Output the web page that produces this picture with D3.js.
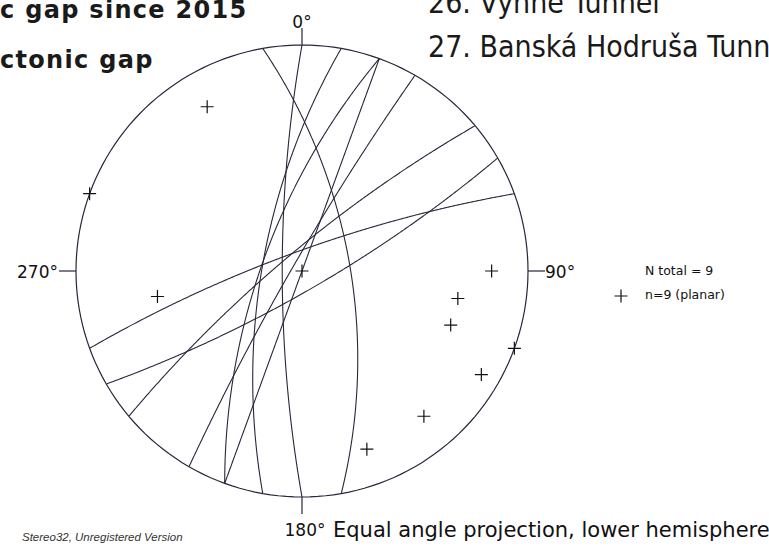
<!DOCTYPE html>
<html>
<head>
  <meta charset='utf-8'>
  <title>Stereonet</title>
  <script src="https://cdn.jsdelivr.net/npm/d3@7"></script>
  <style>
    body { margin: 0; background: #fff; }
    svg { display: block; }
  </style>
</head>
<body>
  <svg width="769" height="547" id="chart"></svg>
  <script>

    // planes measured, given as dip direction / dip
    const dipDirections = [80, 270, 280, 290, 110, 300, 320, 150, 340];
    const dips = [66, 80, 70, 70, 90, 85, 80, 80, 80];

    const tickAngles = [0, 90, 180, 270];
    const tickLabels = ["0°", "90°", "180°", "270°"];

    const legendLines = ["N total = 9", "n=9 (planar)"];

    const R = 226, cx = 302, cy = 271;
    const ink = "#29263a";
    const rad = Math.PI / 180;
    const sans = 'DejaVu Sans, sans-serif';
    const narrow = 'DejaVu Sans Condensed, DejaVu Sans, sans-serif';

    const svg = d3.select('#chart');

    const projection = d3.geoStereographic()
      .scale(R)
      .translate([cx, cy])
      .rotate([0, 0])
      .clipAngle(90)
      .precision(0.1);

    const path = d3.geoPath(projection);

    // trend/plunge of a line, lower hemisphere -> lon/lat on the sphere
    function toLonLat(trend, plunge) {
      const c = (90 - plunge) * rad, t = trend * rad;
      const lat = Math.asin(Math.sin(c) * Math.cos(t)) / rad;
      const lon = Math.atan2(Math.sin(t) * Math.sin(c), Math.cos(c)) / rad;
      return [lon, lat];
    }

    const planes = dipDirections.map((d, i) => ({ dipdir: d, dip: dips[i] }));

    // primitive circle
    svg.append('path')
      .datum({ type: 'Sphere' })
      .attr('d', path)
      .attr('fill', 'none')
      .attr('stroke', ink)
      .attr('stroke-width', 1.2);

    // great circles
    svg.selectAll('.great')
      .data(planes)
      .join('path')
      .classed('great', true)
      .attr('d', d => {
        const pole = toLonLat(d.dipdir + 180, 90 - d.dip);
        const ring = d3.geoCircle().center(pole).radius(90).precision(0.5)().coordinates[0];
        return path({ type: 'LineString', coordinates: ring });
      })
      .attr('fill', 'none')
      .attr('stroke', ink)
      .attr('stroke-width', 1.1);

    // poles (vertical planes get both ends)
    const poles = [];
    planes.forEach(p => {
      poles.push(projection(toLonLat(p.dipdir + 180, 90 - p.dip)));
      if (p.dip === 90) poles.push(projection(toLonLat(p.dipdir, 0)));
    });
    poles.push(projection([0, 0])); // centre mark

    const cross = (g, s) => g.append('path')
      .attr('d', d => `M${d[0] - s},${d[1]}H${d[0] + s}M${d[0]},${d[1] - s}V${d[1] + s}`)
      .attr('stroke', '#111')
      .attr('stroke-width', 1.2)
      .attr('fill', 'none');

    svg.selectAll('.pole')
      .data(poles)
      .join('g')
      .classed('pole', true)
      .call(g => cross(g, 6.5));

    // direction ticks and labels
    const tickLen = 17;
    tickAngles.forEach((a, i) => {
      const p = projection(toLonLat(a, 0));
      const dx = Math.sin(a * rad), dy = -Math.cos(a * rad);
      svg.append('line')
        .attr('x1', p[0]).attr('y1', p[1])
        .attr('x2', p[0] + dx * tickLen).attr('y2', p[1] + dy * tickLen)
        .attr('stroke', ink)
        .attr('stroke-width', 1.2);
      const t = svg.append('text')
        .text(tickLabels[i])
        .style('font-family', sans)
        .style('font-size', '17px')
        .attr('fill', '#111');
      if (a === 0) t.attr('x', p[0]).attr('y', p[1] - tickLen).attr('text-anchor', 'middle');
      if (a === 180) t.attr('x', p[0] + 3).attr('y', p[1] + tickLen + 22).attr('text-anchor', 'middle');
      if (a === 90) t.attr('x', p[0] + tickLen).attr('y', p[1] + 7).attr('text-anchor', 'start');
      if (a === 270) t.attr('x', p[0] - tickLen - 1).attr('y', p[1] + 7).attr('text-anchor', 'end');
    });

    // legend
    const legend = svg.append('g')
      .style('font-family', sans)
      .style('font-size', '12.5px')
      .attr('fill', '#111');
    legend.selectAll('text')
      .data(legendLines)
      .join('text')
      .attr('x', 645)
      .attr('y', (d, i) => 275 + i * 24)
      .text(d => d);
    legend.append('g').datum([621, 296]).call(g => cross(g, 6.5));

    svg.append('text')
      .attr('x', 333).attr('y', 537)
      .style('font-family', sans)
      .style('font-size', '21px')
      .attr('fill', '#111')
      .text('Equal angle projection, lower hemisphere');

    svg.append('text')
      .attr('x', 22).attr('y', 541)
      .style('font-family', 'Liberation Sans, Arial, sans-serif')
      .style('font-size', '11.5px')
      .style('font-style', 'italic')
      .attr('fill', '#333')
      .text('Stereo32, Unregistered Version');

    // slide text around the plot, cut by the frame
    const titles = [
      { x: 0, y: 18, text: 'c gap since 2015', bold: true },
      { x: 0, y: 68, text: 'ctonic gap', bold: true },
      { x: 428, y: 13, text: '26. Vyhne Tunnel', bold: false },
      { x: 428, y: 57, text: '27. Banská Hodruša Tunn', bold: false }
    ];
    svg.selectAll('.title')
      .data(titles)
      .join('text')
      .classed('title', true)
      .attr('x', d => d.x)
      .attr('y', d => d.y)
      .style('font-family', d => d.bold ? sans : narrow)
      .style('font-weight', d => d.bold ? 'bold' : 'normal')
      .style('font-size', d => d.bold ? '24px' : '30px')
      .style('letter-spacing', d => d.bold ? '1.3px' : '0px')
      .attr('fill', '#1a1a1a')
      .text(d => d.text);

  </script>
</body>
</html>
